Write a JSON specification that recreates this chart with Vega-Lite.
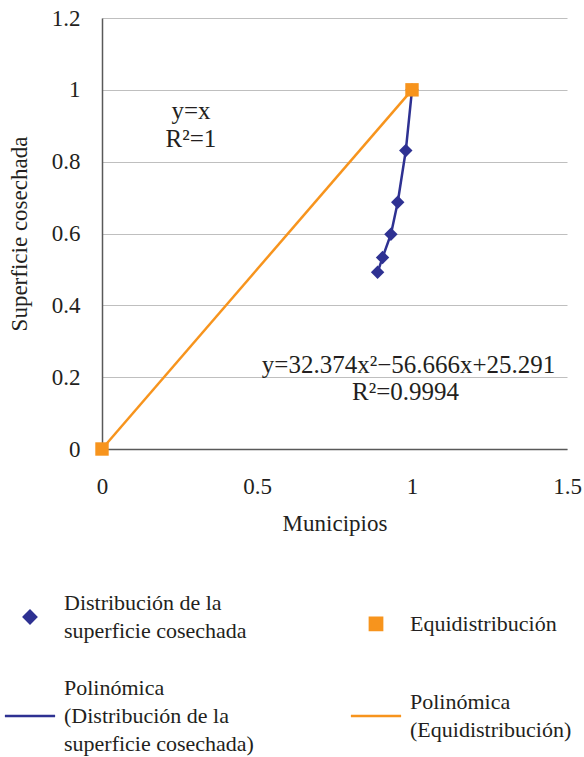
{
  "$schema": "https://vega.github.io/schema/vega-lite/v6.json",
  "width": 465,
  "height": 431,
  "autosize": {"type": "none"},
  "padding": {"left": 102, "top": 18, "right": 17, "bottom": 308},
  "background": "white",
  "datasets": {
    "puntos": [
      {"x": 0.889, "y": 0.492, "serie": "Distribución de la superficie cosechada"},
      {"x": 0.905, "y": 0.533, "serie": "Distribución de la superficie cosechada"},
      {"x": 0.932, "y": 0.598, "serie": "Distribución de la superficie cosechada"},
      {"x": 0.954, "y": 0.687, "serie": "Distribución de la superficie cosechada"},
      {"x": 0.980, "y": 0.831, "serie": "Distribución de la superficie cosechada"},
      {"x": 1.0, "y": 1.0, "serie": "Distribución de la superficie cosechada"},
      {"x": 0.0, "y": 0.0, "serie": "Equidistribución"},
      {"x": 1.0, "y": 1.0, "serie": "Equidistribución"}
    ],
    "lineas": [
      {"x": 0.0, "y": 0.0, "serie": "Polinómica (Equidistribución)"},
      {"x": 1.0, "y": 1.0, "serie": "Polinómica (Equidistribución)"},
      {"x": 0.889, "y": 0.492, "serie": "Polinómica (Distribución de la superficie cosechada)"},
      {"x": 0.905, "y": 0.533, "serie": "Polinómica (Distribución de la superficie cosechada)"},
      {"x": 0.932, "y": 0.598, "serie": "Polinómica (Distribución de la superficie cosechada)"},
      {"x": 0.954, "y": 0.687, "serie": "Polinómica (Distribución de la superficie cosechada)"},
      {"x": 0.980, "y": 0.831, "serie": "Polinómica (Distribución de la superficie cosechada)"},
      {"x": 1.0, "y": 1.0, "serie": "Polinómica (Distribución de la superficie cosechada)"}
    ],
    "anotaciones": [
      {"x": 0.287, "y": 0.94, "texto": "y=x"},
      {"x": 0.287, "y": 0.8635, "texto": "R²=1"},
      {"x": 0.989, "y": 0.234, "texto": "y=32.374x²−56.666x+25.291"},
      {"x": 0.979, "y": 0.160, "texto": "R²=0.9994"}
    ]
  },
  "config": {
    "font": "Liberation Serif",
    "view": {"stroke": null},
    "axis": {
      "labelFont": "Liberation Serif",
      "titleFont": "Liberation Serif",
      "labelFontSize": 23,
      "titleFontSize": 23,
      "titleFontWeight": "normal",
      "labelColor": "#231f20",
      "titleColor": "#231f20",
      "ticks": false,
      "labelFlush": false,
      "domainColor": "#595959",
      "domainWidth": 1.5,
      "gridColor": "#bfbfbf",
      "gridWidth": 1
    },
    "legend": {
      "orient": "none",
      "legendX": -83,
      "legendY": 588,
      "columns": 2,
      "columnPadding": 91,
      "rowPadding": 35,
      "labelFont": "Liberation Serif",
      "labelFontSize": 22,
      "labelColor": "#231f20",
      "labelLimit": 400,
      "labelOffset": 23,
      "symbolSize": 150,
      "symbolStrokeWidth": 2.5,
      "padding": 0
    }
  },
  "layer": [
    {
      "data": {"name": "lineas"},
      "mark": {"type": "line", "strokeWidth": 2.5},
      "encoding": {
        "x": {
          "field": "x", "type": "quantitative",
          "scale": {"domain": [0, 1.5], "nice": false},
          "axis": {"title": "Municipios", "grid": false, "values": [0, 0.5, 1, 1.5], "format": ".1~f", "labelPadding": 26, "titlePadding": 14}
        },
        "y": {
          "field": "y", "type": "quantitative",
          "scale": {"domain": [0, 1.2], "nice": false},
          "axis": {"title": "Superficie cosechada", "grid": true, "values": [0, 0.2, 0.4, 0.6, 0.8, 1, 1.2], "format": ".1~f", "labelPadding": 22, "titlePadding": 20}
        },
        "color": {
          "field": "serie", "type": "nominal",
          "scale": {
            "domain": ["Distribución de la superficie cosechada", "Polinómica (Distribución de la superficie cosechada)", "Equidistribución", "Polinómica (Equidistribución)"],
            "range": ["#2e3192", "#2e3192", "#f7941d", "#f7941d"]
          },
          "legend": {
            "title": null,
            "labelExpr": "datum.label == 'Distribución de la superficie cosechada' ? ['Distribución de la', 'superficie cosechada'] : datum.label == 'Polinómica (Distribución de la superficie cosechada)' ? ['Polinómica', '(Distribución de la', 'superficie cosechada)'] : datum.label == 'Polinómica (Equidistribución)' ? ['Polinómica', '(Equidistribución)'] : datum.label",
            "encode": {
              "symbols": {
                "update": {
                  "fill": {"scale": "color", "field": "value"},
                  "stroke": {"scale": "color", "field": "value"},
                  "strokeWidth": {"value": 2.5},
                  "opacity": {"value": 1}
                }
              },
              "labels": {
                "update": {
                  "lineHeight": {"value": 28},
                  "dy": {"signal": "datum.value == 'Polinómica (Distribución de la superficie cosechada)' ? -28 : (datum.value == 'Equidistribución' ? 0 : -14)"}
                }
              }
            }
          }
        }
      }
    },
    {
      "data": {"name": "puntos"},
      "mark": {"type": "point", "filled": true, "opacity": 1, "size": 180},
      "encoding": {
        "x": {"field": "x", "type": "quantitative"},
        "y": {"field": "y", "type": "quantitative"},
        "color": {"field": "serie", "type": "nominal"},
        "shape": {
          "field": "serie", "type": "nominal",
          "scale": {
            "domain": ["Distribución de la superficie cosechada", "Polinómica (Distribución de la superficie cosechada)", "Equidistribución", "Polinómica (Equidistribución)"],
            "range": ["diamond", "M-4.1,0H4.1", "square", "M-4.1,0H4.1"]
          },
          "legend": {
            "title": null,
            "labelExpr": "datum.label == 'Distribución de la superficie cosechada' ? ['Distribución de la', 'superficie cosechada'] : datum.label == 'Polinómica (Distribución de la superficie cosechada)' ? ['Polinómica', '(Distribución de la', 'superficie cosechada)'] : datum.label == 'Polinómica (Equidistribución)' ? ['Polinómica', '(Equidistribución)'] : datum.label",
            "encode": {
              "symbols": {
                "update": {
                  "fill": {"scale": "color", "field": "value"},
                  "stroke": {"scale": "color", "field": "value"},
                  "strokeWidth": {"value": 2.5},
                  "opacity": {"value": 1}
                }
              },
              "labels": {
                "update": {
                  "lineHeight": {"value": 28},
                  "dy": {"signal": "datum.value == 'Polinómica (Distribución de la superficie cosechada)' ? -28 : (datum.value == 'Equidistribución' ? 0 : -14)"}
                }
              }
            }
          }
        }
      }
    },
    {
      "data": {"name": "anotaciones"},
      "mark": {"type": "text", "font": "Liberation Serif", "fontSize": 25, "color": "#231f20", "align": "center", "baseline": "middle"},
      "encoding": {
        "x": {"field": "x", "type": "quantitative"},
        "y": {"field": "y", "type": "quantitative"},
        "text": {"field": "texto"}
      }
    }
  ]
}
